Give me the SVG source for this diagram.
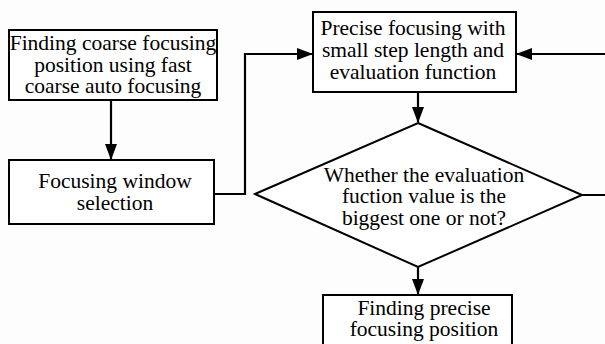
<svg xmlns="http://www.w3.org/2000/svg" width="605" height="344" viewBox="0 0 605 344">
<defs>
<marker id="ah" markerWidth="16" markerHeight="12" refX="15" refY="6" orient="auto" markerUnits="userSpaceOnUse"><path d="M0,0 L16,6 L0,12 Z" fill="#000"/></marker>
<style>
.box{fill:#fff;stroke:#000;stroke-width:2}
.ln{fill:none;stroke:#000;stroke-width:2.2}
text{font-family:"Liberation Serif","Times New Roman",serif;font-size:21.5px;fill:#000;text-anchor:middle}
</style>
</defs>
<rect width="605" height="344" fill="#fdfdfd"/>
<g id="connectors">
<path class="ln" d="M111,100 V159" marker-end="url(#ah)"/>
<path class="ln" d="M214,194 H245 V54 H312" marker-end="url(#ah)"/>
<path class="ln" d="M418,92 V122" marker-end="url(#ah)"/>
<path class="ln" d="M582,195 H612 V54 H517" marker-end="url(#ah)"/>
<path class="ln" d="M418,267 V294" marker-end="url(#ah)"/>
</g>
<g id="coarse">
<rect class="box" x="9" y="30" width="208" height="70"/>
<text x="113" y="50">Finding coarse focusing</text>
<text x="113" y="72">position using fast</text>
<text x="113" y="93">coarse auto focusing</text>
</g>
<g id="window">
<rect class="box" x="9" y="160" width="205" height="64"/>
<text x="115" y="188">Focusing window</text>
<text x="115" y="210">selection</text>
</g>
<g id="precise">
<rect class="box" x="313" y="12" width="203" height="80"/>
<text x="413" y="35">Precise focusing with</text>
<text x="413" y="57">small step length and</text>
<text x="413" y="79">evaluation function</text>
</g>
<g id="decision">
<polygon class="box" points="418,123 582,195 418,267 255,194"/>
<text x="424" y="182">Whether the evaluation</text>
<text x="424" y="203">fuction value is the</text>
<text x="424" y="225">biggest one or not?</text>
</g>
<g id="final">
<rect class="box" x="323" y="295" width="189" height="60"/>
<text x="424" y="315">Finding precise</text>
<text x="424" y="336">focusing position</text>
</g>
</svg>
